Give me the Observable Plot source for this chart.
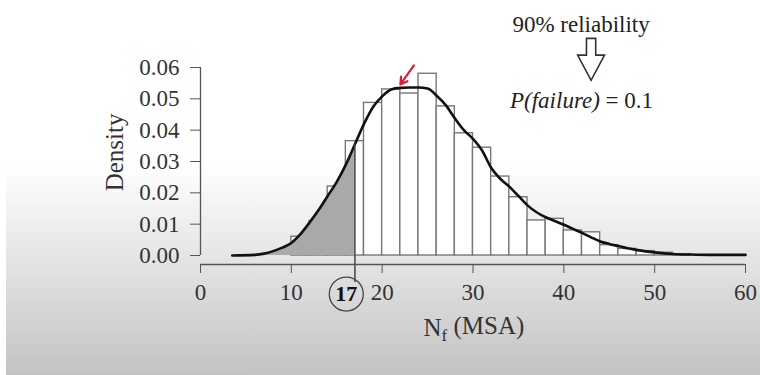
<!DOCTYPE html>
<html><head><meta charset="utf-8">
<script src="https://cdn.jsdelivr.net/npm/d3@7"></script>
<script src="https://cdn.jsdelivr.net/npm/@observablehq/plot@0.6"></script>
<style>
html,body{margin:0;padding:0;}
body{width:760px;height:375px;overflow:hidden;
background:linear-gradient(to right,#fff 6px,transparent 6px),linear-gradient(to bottom,#fff 0%,#fff 44%,#c3c3c3 100%);}
</style></head><body><div id="chart"></div>
<script>
// Histogram (bin start, density), bin width 2
const binStarts  = [10, 12, 14, 16, 18, 20, 22, 24, 26, 28, 30, 32, 34, 36, 38, 40, 42, 44, 46, 48, 50, 52];
const binDensity = [0.006, 0.011, 0.022, 0.0365, 0.0487, 0.053, 0.0517, 0.058, 0.0476, 0.039, 0.0344, 0.0252,
                    0.0186, 0.0112, 0.0117, 0.008, 0.0074, 0.0033, 0.0021, 0.0014, 0.0009, 0.0004];
const binWidth = 2;

// Fitted density curve
const kdeX = [3.5, 6, 7, 8, 9, 10, 11, 12, 13, 14, 15, 16, 17, 18, 19, 20, 21, 22, 23, 24, 25, 26, 27, 28, 29, 30,
              31, 32, 33, 34, 35, 36, 37, 38, 39, 40, 41, 42, 43, 44, 45, 46, 47, 48, 50, 52, 54, 56, 60];
const kdeY = [0, 0.0002, 0.0006, 0.0014, 0.0025, 0.004, 0.0068, 0.0105, 0.0145, 0.019, 0.0235, 0.029, 0.0355,
              0.042, 0.0474, 0.0508, 0.053, 0.0535, 0.0536, 0.0536, 0.0533, 0.051, 0.048, 0.0438, 0.040, 0.0372,
              0.0335, 0.028, 0.0245, 0.022, 0.019, 0.016, 0.0138, 0.0122, 0.011, 0.0098, 0.0085, 0.0072, 0.0058,
              0.0045, 0.0037, 0.003, 0.0023, 0.0018, 0.001, 0.0005, 0.0003, 0.0002, 0.0002];

const xTicks = [0, 10, 20, 30, 40, 50, 60];
const yTicks = [0, 0.01, 0.02, 0.03, 0.04, 0.05, 0.06];
const cutoff = 17;          // P(failure)=0.1 quantile
const cutoffLabel = "17";

const xDomain = [0, 60];
const yDomain = [-0.00287, 0.06];

// Annotations
const textNotes = [
  {text: "90% reliability", x: 41.9, y: 0.0737},
  {text: "P(failure) = 0.1", x: 41.95, y: 0.0495}
];
const hollowArrow = [{x: 43.0, y: 0.0626}];
const redArrow = [{x1: 23.5, y1: 0.0607, x2: 22.0, y2: 0.0546}];
const circleMark = [{x: 16.05, y: -0.0123}];
const cutoffRule = [{x: cutoff, y1: -0.0086, y2: kdeY[kdeX.indexOf(cutoff)]}];
const xTitle = {text: "Nf (MSA)", x: 30.1, y: -0.0232};
const yTitle = {text: "Density", x: -9.4, y: 0.0329};

const bins = binStarts.map((s, i) => ({x1: s, x2: s + binWidth, y: binDensity[i]}));
const kde = kdeX.map((x, i) => ({x, y: kdeY[i]}));
const shaded = kde.filter(d => d.x <= cutoff);

// Hollow "downward block arrow" symbol (shape normalised to radius)
const downArrowSymbol = {
  draw(context, size) {
    const r = Math.sqrt(size / Math.PI);
    const sw = 0.22 * r, hw = 0.64 * r, hb = -0.2 * r;
    context.moveTo(-sw, -r);
    context.lineTo(sw, -r);
    context.lineTo(sw, hb);
    context.lineTo(hw, hb);
    context.lineTo(0, r);
    context.lineTo(-hw, hb);
    context.lineTo(-sw, hb);
    context.closePath();
  }
};

const ink = "#333";
const plot = Plot.plot({
  width: 760, height: 375,
  marginLeft: 200, marginRight: 15, marginTop: 67, marginBottom: 111,
  x: {domain: xDomain},
  y: {domain: yDomain},
  style: {fontFamily: "'Liberation Serif', 'Times New Roman', serif", background: "transparent", color: ink},
  marks: [
    Plot.rectY(bins, {x1: "x1", x2: "x2", y: "y", fill: "white", stroke: "#787878", strokeWidth: 1.4}),
    Plot.areaY(shaded, {x: "x", y: "y", fill: "#a9a9a9", curve: "monotone-x"}),
    Plot.line(kde, {x: "x", y: "y", stroke: "#111", strokeWidth: 2.6, curve: "monotone-x"}),
    Plot.ruleX(cutoffRule, {x: "x", y1: "y1", y2: "y2", stroke: "#444", strokeWidth: 1.5}),
    Plot.ruleX([0], {y1: yTicks[0], y2: yTicks[yTicks.length - 1], stroke: "#555", strokeWidth: 1.3}),
    Plot.ruleY([yDomain[0]], {x1: xTicks[0], x2: xTicks[xTicks.length - 1], stroke: "#555", strokeWidth: 1.3}),
    Plot.axisY({ticks: yTicks, tickFormat: d3.format(".2f"), tickSize: 10, tickPadding: 11, fontSize: 23,
                label: null, stroke: "#555", fill: ink}),
    Plot.axisX({ticks: xTicks, tickSize: 9, tickPadding: 10, fontSize: 23, label: null, stroke: "#555", fill: ink}),
    Plot.dot(circleMark, {x: "x", y: "y", r: 17, stroke: "#444", strokeWidth: 1.3, fill: "none"}),
    Plot.text(circleMark, {x: "x", y: "y", text: () => cutoffLabel, fontSize: 22, fontWeight: "bold", fill: "#111"}),
    Plot.text([xTitle], {x: "x", y: "y", text: "text", fontSize: 25, fill: ink}),
    Plot.text([yTitle], {x: "x", y: "y", text: "text", fontSize: 25, rotate: -90, fill: ink}),
    Plot.text(textNotes, {x: "x", y: "y", text: "text", fontSize: 23, fill: "#222"}),
    Plot.dot(hollowArrow, {x: "x", y: "y", r: 21, symbol: downArrowSymbol, fill: "white", stroke: "#333", strokeWidth: 1.6}),
    Plot.arrow(redArrow, {x1: "x1", y1: "y1", x2: "x2", y2: "y2", stroke: "#d42030", strokeWidth: 2.2, headLength: 8})
  ]
});
document.getElementById("chart").appendChild(plot);

// Rich-text formatting (subscript, italics) on the rendered text
const svg = d3.select(plot);
svg.selectAll("text").filter(function () { return this.textContent === xTitle.text; }).each(function () {
  const t = d3.select(this); t.text(null);
  t.append("tspan").text("N");
  t.append("tspan").attr("font-size", "17px").attr("dy", "0.3em").text("f");
  t.append("tspan").attr("dy", "-0.3em").text(" (MSA)");
});
svg.selectAll("text").filter(function () { return this.textContent === textNotes[1].text; }).each(function () {
  const t = d3.select(this); t.text(null);
  t.append("tspan").attr("font-style", "italic").text("P(failure)");
  t.append("tspan").text(" = 0.1");
});
</script></body></html>
